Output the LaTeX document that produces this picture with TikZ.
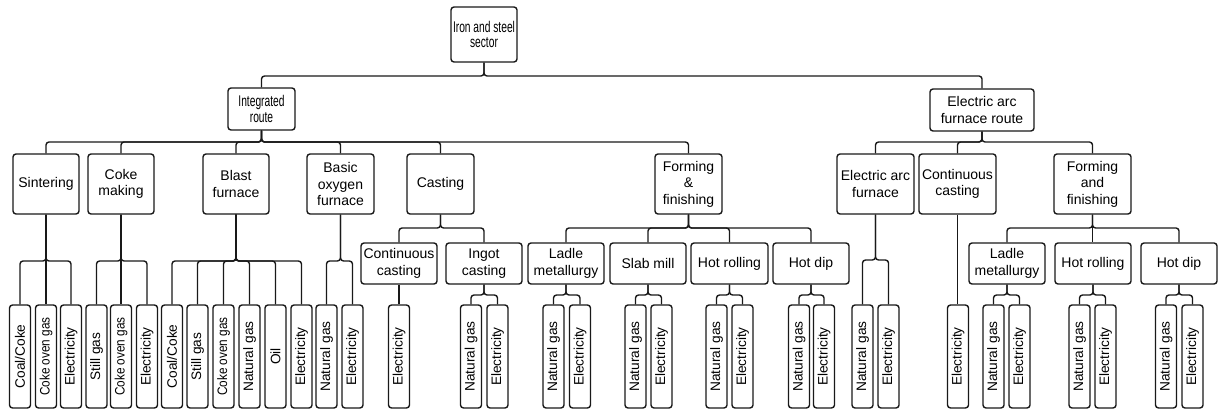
\documentclass[tikz,border=0pt]{standalone}
\usepackage{fontspec}
\setmainfont{Liberation Sans}
\usepackage{graphicx}
\begin{document}
\begin{tikzpicture}[x=1pt,y=-1pt,
  box/.style={draw=black!90,line width=1.4pt,rounded corners=3pt,fill=white,align=center,inner sep=0pt,
    font=\fontsize{14}{16.6}\selectfont},
  leaf/.style={box,minimum width=21pt,minimum height=103pt,font=\fontsize{13.7}{15}\selectfont},
  conn/.style={draw=black!90,line width=1.4pt,rounded corners=3pt}]
\useasboundingbox (0,0) rectangle (1221,411);
\newcommand{\cx}[1]{\scalebox{0.66}[1]{#1}}
\newcommand{\lf}[1]{\rotatebox{90}{#1}}
% root and routes
\node[box,minimum width=66pt,minimum height=55pt,font=\fontsize{15.5}{15.5}\selectfont] (root) at (484,34.5) {\cx{Iron and steel}\\\cx{sector}};
\node[box,minimum width=67pt,minimum height=42pt,font=\fontsize{15.5}{15.5}\selectfont] (int) at (261.5,109) {\cx{Integrated}\\\cx{route}};
\node[box,minimum width=104pt,minimum height=42pt] (eafr) at (982,110) {Electric arc\\furnace route};
% level 2
\node[box,minimum width=66pt,minimum height=60pt] (sin) at (46,184) {Sintering};
\node[box,minimum width=66pt,minimum height=60pt] (coke) at (121,184) {Coke\\making};
\node[box,minimum width=66pt,minimum height=60pt] (bf) at (236,184) {Blast\\furnace};
\node[box,minimum width=67pt,minimum height=60pt] (bof) at (340.5,184) {Basic\\oxygen\\furnace};
\node[box,minimum width=67pt,minimum height=60pt] (cast) at (440.5,184) {Casting};
\node[box,minimum width=67pt,minimum height=60pt] (ff) at (688.5,184) {Forming\\\&\\finishing};
\node[box,minimum width=77pt,minimum height=60pt] (eaf) at (875.5,184) {Electric arc\\furnace};
\node[box,minimum width=77pt,minimum height=60pt] (cc2) at (957.5,184) {Continuous\\casting};
\node[box,minimum width=77pt,minimum height=60pt] (ff2) at (1092.5,184) {Forming\\and\\finishing};
% level 3
\node[box,minimum width=76pt,minimum height=41pt] (cc) at (399,263.5) {Continuous\\casting};
\node[box,minimum width=76pt,minimum height=41pt] (ing) at (484,263.5) {Ingot\\casting};
\node[box,minimum width=76pt,minimum height=41pt] (lad) at (566,263.5) {Ladle\\metallurgy};
\node[box,minimum width=76pt,minimum height=41pt] (slab) at (648,263.5) {Slab mill};
\node[box,minimum width=77pt,minimum height=41pt] (hr) at (729.5,263.5) {Hot rolling};
\node[box,minimum width=76pt,minimum height=41pt] (hd) at (811,263.5) {Hot dip};
\node[box,minimum width=76pt,minimum height=41pt] (lad2) at (1007,263.5) {Ladle\\metallurgy};
\node[box,minimum width=76pt,minimum height=41pt] (hr2) at (1093,263.5) {Hot rolling};
\node[box,minimum width=76pt,minimum height=41pt] (hd2) at (1179,263.5) {Hot dip};
% leaves
\node[leaf] (s1) at (20,356.5) {\lf{Coal/Coke}};
\node[leaf] (s2) at (46,356.5) {\lf{\scalebox{0.86}[1]{Coke oven gas}}};
\node[leaf] (s3) at (71,356.5) {\lf{Electricity}};
\node[leaf] (k1) at (96.5,356.5) {\lf{Still gas}};
\node[leaf] (k2) at (121,356.5) {\lf{\scalebox{0.86}[1]{Coke oven gas}}};
\node[leaf] (k3) at (147,356.5) {\lf{Electricity}};
\node[leaf] (b1) at (172,356.5) {\lf{Coal/Coke}};
\node[leaf] (b2) at (197.5,356.5) {\lf{Still gas}};
\node[leaf] (b3) at (223.5,356.5) {\lf{\scalebox{0.86}[1]{Coke oven gas}}};
\node[leaf] (b4) at (249.5,356.5) {\lf{Natural gas}};
\node[leaf] (b5) at (275.5,356.5) {\lf{Oil}};
\node[leaf] (b6) at (301.5,356.5) {\lf{Electricity}};
\node[leaf] (o1) at (326.5,356.5) {\lf{Natural gas}};
\node[leaf] (o2) at (352.5,356.5) {\lf{Electricity}};
\node[leaf] (c1) at (399,356.5) {\lf{Electricity}};
\node[leaf] (i1) at (471,356.5) {\lf{Natural gas}};
\node[leaf] (i2) at (497.5,356.5) {\lf{Electricity}};
\node[leaf] (l1) at (553.5,356.5) {\lf{Natural gas}};
\node[leaf] (l2) at (580,356.5) {\lf{Electricity}};
\node[leaf] (m1) at (635.5,356.5) {\lf{Natural gas}};
\node[leaf] (m2) at (661.5,356.5) {\lf{Electricity}};
\node[leaf] (r1) at (716.5,356.5) {\lf{Natural gas}};
\node[leaf] (r2) at (742.5,356.5) {\lf{Electricity}};
\node[leaf] (d1) at (799,356.5) {\lf{Natural gas}};
\node[leaf] (d2) at (824,356.5) {\lf{Electricity}};
\node[leaf] (e1) at (862.5,356.5) {\lf{Natural gas}};
\node[leaf] (e2) at (888.5,356.5) {\lf{Electricity}};
\node[leaf] (q1) at (958,356.5) {\lf{Electricity}};
\node[leaf] (n1) at (993.5,356.5) {\lf{Natural gas}};
\node[leaf] (n2) at (1019.5,356.5) {\lf{Electricity}};
\node[leaf] (h1) at (1079.5,356.5) {\lf{Natural gas}};
\node[leaf] (h2) at (1105.5,356.5) {\lf{Electricity}};
\node[leaf] (g1) at (1166,356.5) {\lf{Natural gas}};
\node[leaf] (g2) at (1192.5,356.5) {\lf{Electricity}};
% connectors
\newcommand{\conn}[3]{\draw[conn] (#1.south) -- (#1.south |- 0,#3) -- (#2.north |- 0,#3) -- (#2.north);}
\newcommand{\straight}[2]{\draw[conn] (#1.south) -- (#1.south |- #2.north);}
\foreach \c in {int,eafr} {\conn{root}{\c}{76}}
\foreach \c in {sin,coke,bf,bof,cast,ff} {\conn{int}{\c}{142}}
\foreach \c in {eaf,cc2,ff2} {\conn{eafr}{\c}{142}}
\foreach \c in {cc,ing} {\conn{cast}{\c}{228}}
\foreach \c in {lad,slab,hr,hd} {\conn{ff}{\c}{228}}
\foreach \c in {lad2,hd2} {\conn{ff2}{\c}{228}}
\straight{ff2}{hr2}
\foreach \c in {s1,s3} {\conn{sin}{\c}{261}}
\straight{sin}{s2}
\foreach \c in {k1,k3} {\conn{coke}{\c}{261}}
\straight{coke}{k2}
\foreach \c in {b1,b2,b3,b4,b5,b6} {\conn{bf}{\c}{261}}
\foreach \c in {o1,o2} {\conn{bof}{\c}{261}}
\straight{cc}{c1}
\foreach \c in {i1,i2} {\conn{ing}{\c}{295}}
\foreach \c in {l1,l2} {\conn{lad}{\c}{295}}
\foreach \c in {m1,m2} {\conn{slab}{\c}{295}}
\foreach \c in {r1,r2} {\conn{hr}{\c}{295}}
\foreach \c in {d1,d2} {\conn{hd}{\c}{295}}
\foreach \c in {e1,e2} {\conn{eaf}{\c}{260}}
\straight{cc2}{q1}
\foreach \c in {n1,n2} {\conn{lad2}{\c}{295}}
\foreach \c in {h1,h2} {\conn{hr2}{\c}{295}}
\foreach \c in {g1,g2} {\conn{hd2}{\c}{295}}
\end{tikzpicture}
\end{document}
